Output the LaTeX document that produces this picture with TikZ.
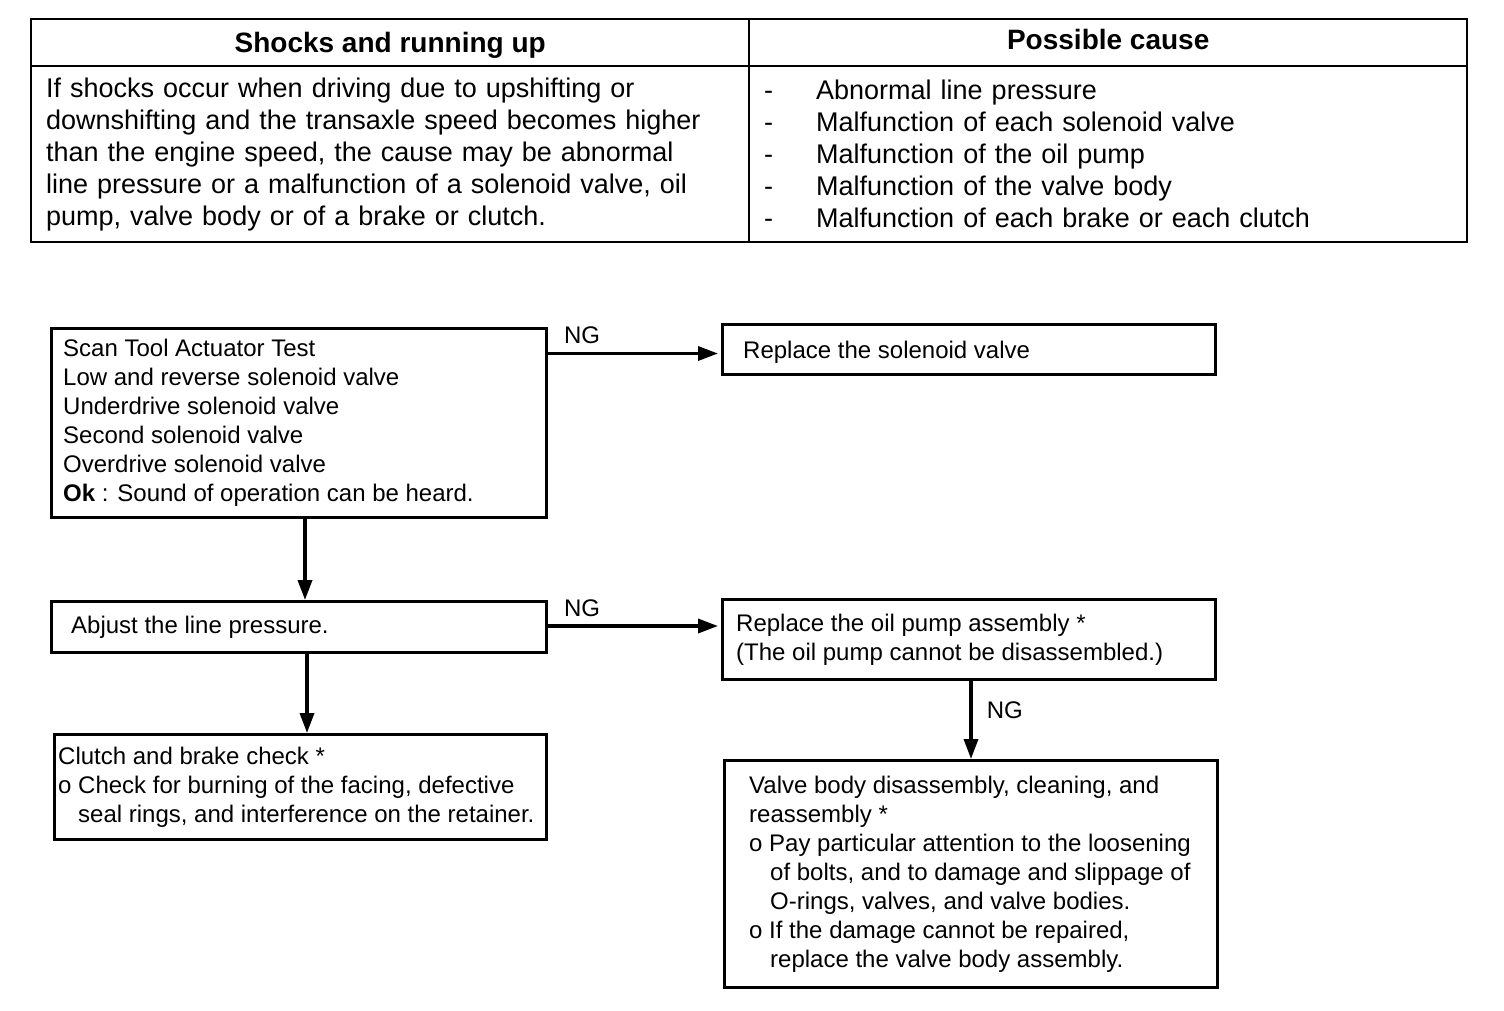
\documentclass[tikz,border=0pt]{standalone}
\usepackage{fontspec}
\setmainfont{Liberation Sans}
\usetikzlibrary{positioning,arrows.meta}
\newcommand{\causeitem}[1]{\makebox[52pt][l]{-}#1}

\begin{document}
\begin{tikzpicture}[x=1pt,y=-1pt,
		cell/.style={draw,line width=2.4pt,anchor=north west,inner sep=0pt,font=\fontsize{27}{32}\selectfont},
		head/.style={cell,minimum width=718pt,minimum height=47pt,text height=20pt,font=\fontsize{28}{32}\selectfont\bfseries},
		box/.style={draw,line width=3pt,anchor=north west,inner sep=0pt},
		txt/.style={align=left,inner sep=0pt,font=\fontsize{24}{29}\selectfont},
		ng/.style={inner sep=0pt,font=\fontsize{24}{29}\selectfont},
		arr/.style={line width=3.5pt,-{Triangle[length=20pt,width=14pt]}}]
		\useasboundingbox (0,0) rectangle (1504,1010);
		% table
		\node[head,text depth=0pt] (hcase) at (30,18) {Shocks and running up};
		\node[head,text depth=6pt] (hcause) at (748,18) {Possible cause};
		\node[cell,minimum height=176pt,text width=688pt,inner xsep=15pt,align=left] (case) at (30,65)
		{If shocks occur when driving due to upshifting or\\
			downshifting and the transaxle speed becomes higher\\
			than the engine speed, the cause may be abnormal\\
			line pressure or a malfunction of a solenoid valve, oil\\
			pump, valve body or of a brake or clutch.};
		\node[cell,minimum height=176pt,text width=688pt,inner xsep=15pt,align=left] (cause) at (748,65)
		{\causeitem{Abnormal line pressure}\\
			\causeitem{Malfunction of each solenoid valve}\\
			\causeitem{Malfunction of the oil pump}\\
			\causeitem{Malfunction of the valve body}\\
			\causeitem{Malfunction of each brake or each clutch}};
		% flow boxes
		\node[box,minimum width=495pt,minimum height=189pt] (test) at (50,327) {};
		\node[box,minimum width=493pt,minimum height=50pt] (solenoid) at (721,323) {};
		\node[box,minimum width=495pt,minimum height=51pt] (pressure) at (50,600) {};
		\node[box,minimum width=493pt,minimum height=80pt] (pump) at (721,598) {};
		\node[box,minimum width=492pt,minimum height=105pt] (clutch) at (53,733) {};
		\node[box,minimum width=493pt,minimum height=227pt] (valvebody) at (723,759) {};
		% texts
		\node[txt,right=13pt of test.west] (testtxt) {Scan Tool Actuator Test\\
			Low and reverse solenoid valve\\
			Underdrive solenoid valve\\
			Second solenoid valve\\
			Overdrive solenoid valve\\
			\textbf{Ok} : Sound of operation can be heard.};
		\node[txt,right=22pt of solenoid.west,yshift=-3pt] (solenoidtxt) {Replace the solenoid valve};
		\node[txt,right=21pt of pressure.west] (pressuretxt) {Abjust the line pressure.};
		\node[txt,right=15pt of pump.west] (pumptxt) {Replace the oil pump assembly *\\
			(The oil pump cannot be disassembled.)};
		\node[txt,right=5pt of clutch.west] (clutchtxt) {Clutch and brake check *\\
			o Check for burning of the facing, defective\\
			\hspace*{20pt}seal rings, and interference on the retainer.};
		\node[txt,right=26pt of valvebody.west] (valvebodytxt) {Valve body disassembly, cleaning, and\\
			reassembly *\\
			o Pay particular attention to the loosening\\
			\hspace*{21pt}of bolts, and to damage and slippage of\\
			\hspace*{21pt}O-rings, valves, and valve bodies.\\
			o If the damage cannot be repaired,\\
			\hspace*{21pt}replace the valve body assembly.};
		% arrows
		\draw[arr] ([yshift=-4pt]test.east |- solenoid.west) -- node[ng,above=8pt,pos=0.2] (ng1) {NG} ([xshift=-3pt,yshift=-4pt]solenoid.west);
		\draw[arr] ([xshift=6pt]test.south) -- ([xshift=6pt]test.south |- pressure.north);
		\draw[arr] ([yshift=1pt]pressure.east) -- node[ng,above=8pt,pos=0.2] (ng2) {NG} ([xshift=-3pt,yshift=1pt]pressure.east -| pump.west);
		\draw[arr] ([xshift=8pt]pressure.south) -- ([xshift=8pt]pressure.south |- clutch.north);
		\draw[arr] ([xshift=2pt]pump.south) -- node[ng,right=14pt,pos=0.37] (ng3) {NG} ([xshift=2pt]pump.south |- valvebody.north);
\end{tikzpicture}
\end{document}
